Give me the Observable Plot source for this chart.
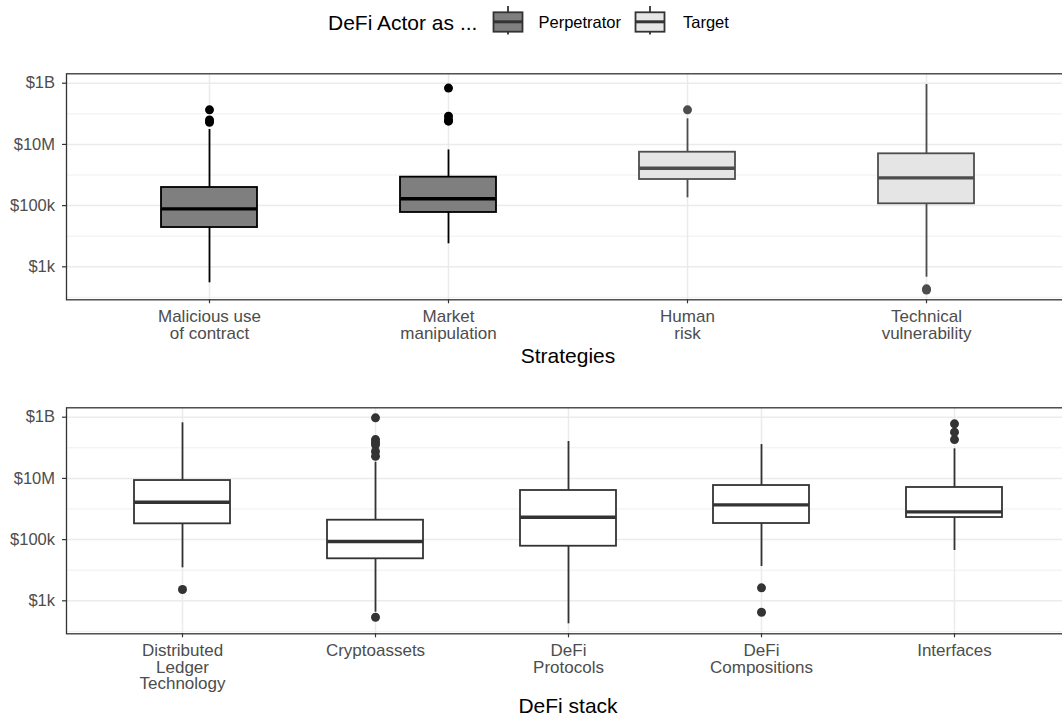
<!DOCTYPE html>
<html><head><meta charset="utf-8">
<script src="https://cdn.jsdelivr.net/npm/d3@7"></script>
<script src="https://cdn.jsdelivr.net/npm/@observablehq/plot@0.6"></script>
<style>
html,body{margin:0;padding:0;background:#fff;overflow:hidden}
#wrap{position:relative;width:1062px;height:715px;overflow:hidden;font-family:"Liberation Sans",Arial,sans-serif}
.plot{position:absolute;left:0;width:1072px}
.plot svg{max-width:none !important;display:block}
.ttl{position:absolute;font-size:21px;color:#000;transform:translate(-50%,-50%);white-space:nowrap;line-height:1}
.plot svg [aria-label="x-axis tick label"], .plot svg [aria-label="y-axis tick label"]{fill:#4d4d4d}
.lg{position:absolute;white-space:nowrap;line-height:1;transform:translateY(-50%);color:#000}
.lgk{position:absolute;display:block}
</style></head>
<body><div id="wrap"></div>
<script>
// ---------- data ----------
const majorTicks = [1e3, 1e5, 1e7, 1e9];
const minorTicks = [1e2, 1e4, 1e6, 1e8];
const tickLabels = ["$1k", "$100k", "$10M", "$1B"];
const yDomain = [83.6, 2.03e9];

const actors = ["Perpetrator", "Target"];

// Panel 1: Strategies
const strategies = ["Malicious use of contract", "Market manipulation", "Human risk", "Technical vulnerability"];
const strategyLabels = ["Malicious use\nof contract", "Market\nmanipulation", "Human\nrisk", "Technical\nvulnerability"];
const strategyActor = ["Perpetrator", "Perpetrator", "Target", "Target"];
const sLower  = [300, 5650, 180000, 457];
const sQ1     = [19230, 59600, 713000, 114500];
const sMedian = [78500, 166700, 1670000, 809000];
const sQ3     = [391000, 851000, 5560000, 4930000];
const sUpper  = [30700000, 6600000, 68700000, 908000000];
const sOutCat = ["Malicious use of contract", "Malicious use of contract", "Malicious use of contract",
                 "Market manipulation", "Market manipulation", "Market manipulation", "Market manipulation",
                 "Human risk", "Technical vulnerability", "Technical vulnerability"];
const sOutVal = [135000000, 63000000, 52500000,
                 692000000, 83000000, 63000000, 57500000,
                 135000000, 191, 174];

// Panel 2: DeFi stack
const layers = ["Distributed Ledger Technology", "Cryptoassets", "DeFi Protocols", "DeFi Compositions", "Interfaces"];
const layerLabels = ["Distributed\nLedger\nTechnology", "Cryptoassets", "DeFi\nProtocols", "DeFi\nCompositions", "Interfaces"];
const lLower  = [11970, 424, 177, 13200, 44000];
const lQ1     = [328000, 23600, 60800, 335700, 527000];
const lMedian = [1670000, 86700, 540000, 1370000, 809000];
const lQ3     = [8530000, 430500, 4030000, 5860000, 5050000];
const lUpper  = [656000000, 33900000, 160700000, 128000000, 92700000];
const lOutCat = ["Distributed Ledger Technology",
                 "Cryptoassets", "Cryptoassets", "Cryptoassets", "Cryptoassets", "Cryptoassets", "Cryptoassets", "Cryptoassets",
                 "DeFi Compositions", "DeFi Compositions",
                 "Interfaces", "Interfaces", "Interfaces"];
const lOutVal = [2340,
                 955000000, 186000000, 151000000, 126000000, 75900000, 52500000, 291,
                 2660, 424,
                 608000000, 324000000, 186000000];

// ---------- drawing ----------
const styles = {
  Perpetrator: {fill: "#7f7f7f", stroke: "#000000", dot: "#000000"},
  Target: {fill: "#e5e5e5", stroke: "#4d4d4d", dot: "#4d4d4d"},
  Plain: {fill: "#ffffff", stroke: "#333333", dot: "#333333"}
};
const wrap = document.getElementById("wrap");

function panel(cfg) {
  const rows = cfg.cats.map((c, i) => ({cat: c, lo: cfg.lower[i], q1: cfg.q1[i], med: cfg.med[i], q3: cfg.q3[i], hi: cfg.upper[i], g: cfg.groups[i]}));
  const outs = cfg.outCat.map((c, i) => ({cat: c, v: cfg.outVal[i], g: cfg.groups[cfg.cats.indexOf(c)]}));
  const marks = [
    Plot.ruleY(minorTicks, {stroke: "#ebebeb", strokeWidth: 0.8}),
    Plot.ruleY(majorTicks, {stroke: "#ebebeb", strokeWidth: 1.5}),
    Plot.ruleX(cfg.cats, {x: d => d, stroke: "#ebebeb", strokeWidth: 1.5})
  ];
  for (const g of new Set(cfg.groups)) {
    const st = styles[g];
    const r = rows.filter(d => d.g === g);
    const o = outs.filter(d => d.g === g);
    marks.push(
      Plot.ruleX(r, {x: "cat", y1: "q3", y2: "hi", stroke: st.stroke, strokeWidth: 1.8}),
      Plot.ruleX(r, {x: "cat", y1: "lo", y2: "q1", stroke: st.stroke, strokeWidth: 1.8}),
      Plot.barY(r, {x: "cat", y1: "q1", y2: "q3", fill: st.fill, stroke: st.stroke, strokeWidth: 1.8}),
      Plot.tickY(r, {x: "cat", y: "med", stroke: st.stroke, strokeWidth: 3.4}),
      Plot.dot(o, {x: "cat", y: "v", r: 4.5, fill: st.dot, stroke: "none"})
    );
  }
  marks.push(
    Plot.frame({stroke: "#333333", strokeWidth: 1.3}),
    Plot.axisY({ticks: majorTicks, tickFormat: d => tickLabels[majorTicks.indexOf(d)], tickSize: 4, tickPadding: 7.5, fontSize: 16.5, stroke: "#333333", strokeWidth: 1.2, label: null}),
    Plot.axisX({tickFormat: d => cfg.labels[cfg.cats.indexOf(d)], tickSize: 4, tickPadding: 7, fontSize: 17, lineHeight: 0.96, stroke: "#333333", strokeWidth: 1.2, label: null})
  );
  const chart = Plot.plot({
    width: 1072, height: cfg.h,
    marginLeft: 66, marginRight: 2, marginTop: cfg.mt, marginBottom: cfg.mb,
    style: {fontFamily: "'Liberation Sans', Arial, sans-serif", background: "transparent", maxWidth: "none"},
    x: {type: "band", domain: cfg.cats, paddingInner: cfg.padIn, paddingOuter: cfg.padOut, align: 0.5},
    y: {type: "log", domain: yDomain},
    marks
  });
  const div = document.createElement("div");
  div.className = "plot";
  div.style.top = cfg.top + "px";
  div.appendChild(chart);
  wrap.appendChild(div);
  const t = document.createElement("div");
  t.className = "ttl";
  t.textContent = cfg.title;
  t.style.left = "568px";
  t.style.top = cfg.titleY + "px";
  wrap.appendChild(t);
}

panel({cats: strategies, labels: strategyLabels, groups: strategyActor,
  lower: sLower, q1: sQ1, med: sMedian, q3: sQ3, upper: sUpper, outCat: sOutCat, outVal: sOutVal,
  top: 0, h: 380, mt: 73.3, mb: 80.7, padIn: 0.598, padOut: 0.399, title: "Strategies", titleY: 355});

panel({cats: layers, labels: layerLabels, groups: layers.map(() => "Plain"),
  lower: lLower, q1: lQ1, med: lMedian, q3: lQ3, upper: lUpper, outCat: lOutCat, outVal: lOutVal,
  top: 380, h: 335, mt: 27.3, mb: 81.7, padIn: 0.503, padOut: 0.3515, title: "DeFi stack", titleY: 705});

// legend
function keySvg(st, left) {
  const ns = "http://www.w3.org/2000/svg";
  const s = document.createElementNS(ns, "svg");
  s.setAttribute("class", "lgk");
  s.setAttribute("width", 34); s.setAttribute("height", 32);
  s.style.left = left + "px"; s.style.top = "4px";
  s.innerHTML = `<line x1="17" x2="17" y1="2" y2="30.5" stroke="${st.stroke}" stroke-width="1.8"/>
    <rect x="2.5" y="8.3" width="29" height="19.4" fill="${st.fill}" stroke="${st.stroke}" stroke-width="1.8"/>
    <line x1="2.5" x2="31.5" y1="17.8" y2="17.8" stroke="${st.stroke}" stroke-width="3"/>`;
  return s;
}
function legText(txt, left, size) {
  const d = document.createElement("div");
  d.className = "lg"; d.textContent = txt;
  d.style.left = left + "px"; d.style.top = "22px"; d.style.fontSize = size + "px";
  wrap.appendChild(d);
}
const legendStyles = {Perpetrator: {fill: "#7f7f7f", stroke: "#333333"}, Target: {fill: "#e5e5e5", stroke: "#333333"}};
const legendKeyLeft = {Perpetrator: 491, Target: 633};
const legendTextLeft = {Perpetrator: 538.5, Target: 683};
legText("DeFi Actor as ...", 328, 21);
actors.forEach(a => {
  wrap.appendChild(keySvg(legendStyles[a], legendKeyLeft[a]));
  legText(a, legendTextLeft[a], 16.5);
});
</script>
</body></html>
